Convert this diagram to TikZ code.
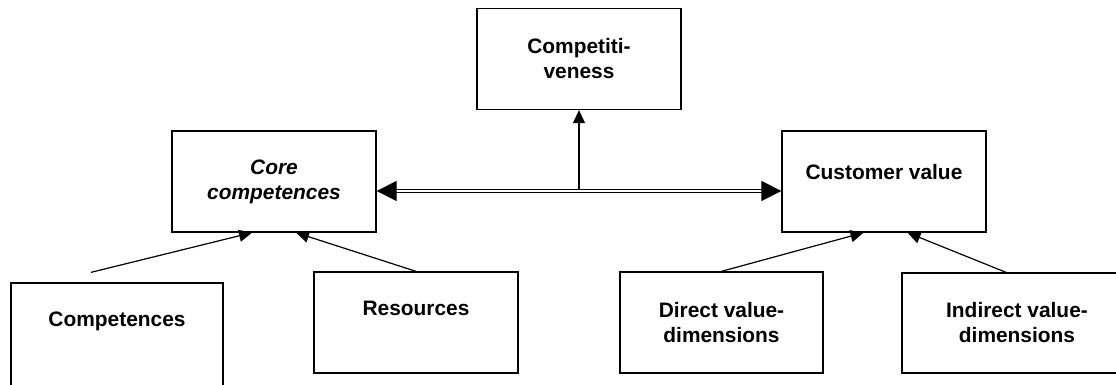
\documentclass[tikz,border=0pt]{standalone}
\usepackage{fontspec}
\setmainfont{Liberation Sans}
\usetikzlibrary{arrows.meta,positioning}
\newcommand{\bwfont}{\fontsize{20.9}{25}\selectfont\bfseries}
\tikzstyle{bw}=[rectangle, draw, line width=1.3pt, minimum width=204pt,
    minimum height=101pt, inner sep=0pt, align=center, font=\bwfont]
\tikzstyle{oneline}=[text height=15pt]

\begin{document}
\begin{tikzpicture}[x=1pt,y=-1pt,->,>={Triangle[length=13pt,width=12pt]},
                    line width=1.2pt,node distance=305pt]
  \useasboundingbox (0,0) rectangle (1116,385);

  \node[bw, font=\bwfont\itshape] (core) at (274,181.5) {Core\\competences};
  \node[bw, right of=core, yshift=122.5pt] (comp) {Competiti-\\veness};
  \node[bw, oneline, right of=comp, yshift=-122.5pt, text depth=19pt] (cust) {Customer value};

  % lower row
  \node[bw, oneline, minimum width=212pt, minimum height=104pt, text depth=32pt] (compet) at (117,335) {Competences};
  \node[bw, oneline, text depth=29pt] (res) at (416,322.5) {Resources};
  \node[bw, minimum width=203pt] (direct) at (721.5,322.5) {Direct value-\\dimensions};
  \node[bw, minimum width=230pt, minimum height=100pt] (indirect) at (1017,323) {Indirect value-\\dimensions};

  \coordinate[above=10pt of compet.north, xshift=-26pt] (compettail);
  \coordinate (link) at ([yshift=-9.5pt]core.east);

  \draw (compettail) -- ([xshift=-22pt]core.south);
  \draw (res.north) -- ([xshift=22pt]core.south);
  \draw (direct.north) -- ([xshift=-20.5pt]cust.south);
  \draw ([xshift=-11pt]indirect.north) -- ([xshift=23.5pt]cust.south);
  \draw (comp.south |- link) -- (comp.south);
  \draw[{Triangle[length=20pt,width=20pt]}-{Triangle[length=20pt,width=20pt]},
        double, double distance=1.8pt] (link) -- (link -| cust.west);
\end{tikzpicture}
\end{document}
